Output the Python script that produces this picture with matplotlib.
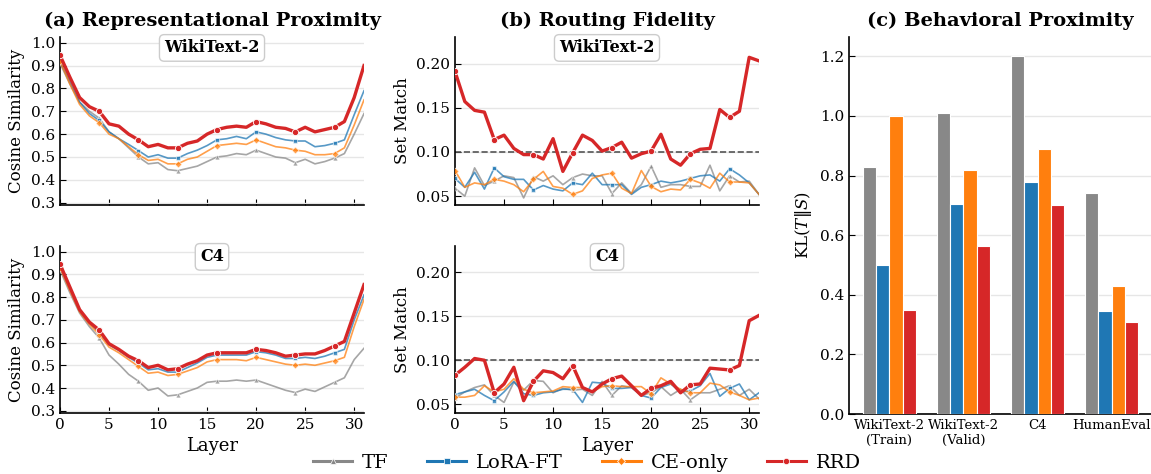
import numpy as np
import matplotlib
matplotlib.use('Agg')
import matplotlib.pyplot as plt
from matplotlib.lines import Line2D

plt.rcParams['font.family'] = 'DejaVu Serif'
plt.rcParams['mathtext.fontset'] = 'dejavuserif'

layers = np.arange(32)
methods = ['TF', 'LoRA-FT', 'CE-only', 'RRD']
colors = ['#888888', '#1f77b4', '#ff7f0e', '#d62728']
markers = ['^', 's', 'D', 'o']

# (a) cosine similarity, WikiText-2
cos_wiki = {
    'TF': [0.91, 0.82, 0.74, 0.70, 0.67, 0.61, 0.58, 0.54, 0.50, 0.47, 0.475, 0.445, 0.44, 0.45, 0.46, 0.48,
           0.50, 0.505, 0.515, 0.51, 0.53, 0.515, 0.50, 0.495, 0.475, 0.49, 0.47, 0.48, 0.495, 0.515, 0.60, 0.69],
    'LoRA-FT': [0.92, 0.83, 0.74, 0.69, 0.66, 0.61, 0.58, 0.555, 0.528, 0.50, 0.51, 0.495, 0.495, 0.515, 0.53, 0.55,
                0.575, 0.58, 0.59, 0.58, 0.61, 0.60, 0.585, 0.575, 0.57, 0.57, 0.545, 0.55, 0.56, 0.575, 0.685, 0.79],
    'CE-only': [0.92, 0.82, 0.73, 0.68, 0.65, 0.60, 0.58, 0.545, 0.51, 0.485, 0.49, 0.47, 0.47, 0.49, 0.50, 0.525,
                0.55, 0.555, 0.56, 0.555, 0.575, 0.56, 0.545, 0.54, 0.53, 0.525, 0.51, 0.51, 0.515, 0.54, 0.64, 0.75],
    'RRD': [0.945, 0.85, 0.76, 0.72, 0.70, 0.645, 0.635, 0.60, 0.575, 0.545, 0.555, 0.54, 0.54, 0.56, 0.57, 0.60,
            0.62, 0.63, 0.635, 0.63, 0.655, 0.645, 0.63, 0.625, 0.61, 0.63, 0.61, 0.62, 0.63, 0.655, 0.76, 0.90],
}
# (a) cosine similarity, C4
cos_c4 = {
    'TF': [0.92, 0.82, 0.73, 0.67, 0.62, 0.545, 0.505, 0.46, 0.43, 0.39, 0.40, 0.365, 0.37, 0.385, 0.40, 0.425,
           0.43, 0.43, 0.435, 0.43, 0.435, 0.42, 0.405, 0.39, 0.38, 0.395, 0.385, 0.405, 0.425, 0.445, 0.525, 0.575],
    'LoRA-FT': [0.935, 0.84, 0.74, 0.685, 0.645, 0.59, 0.565, 0.535, 0.51, 0.48, 0.485, 0.47, 0.47, 0.49, 0.51, 0.535,
                0.545, 0.545, 0.545, 0.545, 0.56, 0.555, 0.545, 0.53, 0.53, 0.535, 0.53, 0.54, 0.555, 0.57, 0.70, 0.81],
    'CE-only': [0.93, 0.83, 0.735, 0.68, 0.635, 0.58, 0.555, 0.525, 0.495, 0.465, 0.47, 0.455, 0.46, 0.475, 0.49, 0.515,
                0.525, 0.525, 0.525, 0.52, 0.535, 0.525, 0.515, 0.505, 0.50, 0.505, 0.50, 0.51, 0.52, 0.535, 0.67, 0.79],
    'RRD': [0.945, 0.845, 0.745, 0.69, 0.655, 0.595, 0.57, 0.54, 0.52, 0.49, 0.50, 0.48, 0.485, 0.505, 0.52, 0.545,
            0.555, 0.555, 0.555, 0.555, 0.57, 0.565, 0.555, 0.54, 0.545, 0.55, 0.55, 0.565, 0.585, 0.605, 0.73, 0.855],
}
# (b) set match, WikiText-2
set_wiki = {
    'TF': [0.059, 0.050, 0.082, 0.062, 0.067, 0.073, 0.071, 0.048, 0.072, 0.067, 0.073, 0.063, 0.071, 0.075, 0.073, 0.073,
           0.053, 0.065, 0.053, 0.063, 0.084, 0.060, 0.063, 0.063, 0.061, 0.061, 0.085, 0.056, 0.073, 0.066, 0.067, 0.052],
    'LoRA-FT': [0.070, 0.060, 0.077, 0.058, 0.082, 0.072, 0.069, 0.069, 0.057, 0.062, 0.058, 0.056, 0.065, 0.063, 0.076, 0.063,
                0.063, 0.063, 0.052, 0.060, 0.063, 0.067, 0.065, 0.067, 0.070, 0.073, 0.074, 0.067, 0.081, 0.074, 0.065, 0.052],
    'CE-only': [0.079, 0.060, 0.065, 0.063, 0.069, 0.067, 0.063, 0.055, 0.069, 0.078, 0.061, 0.059, 0.052, 0.056, 0.070, 0.074,
                0.076, 0.059, 0.053, 0.079, 0.061, 0.055, 0.058, 0.057, 0.069, 0.065, 0.059, 0.076, 0.066, 0.066, 0.065, 0.052],
    'RRD': [0.191, 0.157, 0.147, 0.145, 0.114, 0.119, 0.104, 0.097, 0.097, 0.092, 0.115, 0.078, 0.099, 0.119, 0.113, 0.101,
            0.105, 0.111, 0.093, 0.098, 0.101, 0.120, 0.092, 0.085, 0.098, 0.103, 0.104, 0.148, 0.139, 0.146, 0.207, 0.203],
}
# (b) set match, C4
set_c4 = {
    'TF': [0.057, 0.064, 0.069, 0.072, 0.060, 0.052, 0.075, 0.066, 0.077, 0.076, 0.063, 0.068, 0.066, 0.067, 0.060, 0.076,
           0.060, 0.071, 0.069, 0.060, 0.063, 0.070, 0.060, 0.067, 0.055, 0.063, 0.063, 0.067, 0.071, 0.060, 0.067, 0.056],
    'LoRA-FT': [0.061, 0.064, 0.067, 0.060, 0.054, 0.064, 0.076, 0.062, 0.060, 0.063, 0.064, 0.067, 0.067, 0.052, 0.075, 0.074,
                0.068, 0.068, 0.069, 0.060, 0.057, 0.069, 0.073, 0.064, 0.065, 0.071, 0.085, 0.059, 0.068, 0.073, 0.055, 0.063],
    'CE-only': [0.058, 0.058, 0.060, 0.071, 0.064, 0.067, 0.079, 0.067, 0.063, 0.064, 0.065, 0.070, 0.069, 0.069, 0.064, 0.070,
                0.071, 0.070, 0.070, 0.070, 0.062, 0.080, 0.073, 0.067, 0.063, 0.063, 0.074, 0.072, 0.064, 0.060, 0.055, 0.057],
    'RRD': [0.083, 0.092, 0.102, 0.100, 0.063, 0.073, 0.092, 0.054, 0.076, 0.088, 0.086, 0.079, 0.094, 0.069, 0.064, 0.073,
            0.079, 0.082, 0.071, 0.060, 0.068, 0.071, 0.076, 0.063, 0.072, 0.073, 0.091, 0.090, 0.089, 0.094, 0.145, 0.151],
}
# (c) KL divergence
kl_datasets = ['WikiText-2\n(Train)', 'WikiText-2\n(Valid)', 'C4', 'HumanEval']
kl_values = {
    'TF': [0.83, 1.01, 1.20, 0.74],
    'LoRA-FT': [0.50, 0.705, 0.78, 0.345],
    'CE-only': [1.00, 0.82, 0.89, 0.43],
    'RRD': [0.35, 0.565, 0.70, 0.31],
}

fig = plt.figure(figsize=(11.51, 4.74), dpi=100)
W, H = 1151.0, 474.0

def add_ax(x0, y0, x1, y1):
    return fig.add_axes([x0 / W, 1 - y1 / H, (x1 - x0) / W, (y1 - y0) / H])

def style(ax):
    ax.spines['top'].set_visible(False)
    ax.spines['right'].set_visible(False)
    ax.spines['left'].set_linewidth(1.2)
    ax.spines['bottom'].set_linewidth(1.2)
    ax.tick_params(direction='in', labelsize=11, length=4)
    ax.yaxis.grid(True, color='#e6e6e6', linewidth=1.0)
    ax.set_axisbelow(True)

def line_panel(ax, data, box_label, ylim, yticks, ylabel, show_x):
    for m, c, mk in zip(methods, colors, markers):
        if m == 'RRD':
            ax.plot(layers, data[m], color=c, lw=2.4, marker=mk, ms=4.5, markevery=4,
                    markeredgecolor='white', markeredgewidth=0.6, zorder=5)
        else:
            ax.plot(layers, data[m], color=c, lw=1.2, alpha=0.75, marker=mk, ms=3.5, markevery=4,
                    markeredgecolor='white', markeredgewidth=0.5, zorder=3)
    ax.set_xlim(0, 31)
    ax.set_ylim(*ylim)
    ax.set_yticks(yticks)
    ax.set_xticks([0, 5, 10, 15, 20, 25, 30])
    ax.set_ylabel(ylabel, fontsize=12)
    style(ax)
    if show_x:
        ax.set_xlabel('Layer', fontsize=13)
    else:
        ax.tick_params(labelbottom=False)
    ax.text(0.5, 0.935, box_label, transform=ax.transAxes, ha='center', va='center',
            fontsize=11.5, fontweight='bold',
            bbox=dict(boxstyle='round,pad=0.3', facecolor='white', edgecolor='#cccccc', linewidth=1))

cos_ticks = [0.3, 0.4, 0.5, 0.6, 0.7, 0.8, 0.9, 1.0]
set_ticks = [0.05, 0.10, 0.15, 0.20]

ax1 = add_ax(60, 37, 364, 205)
line_panel(ax1, cos_wiki, 'WikiText-2', (0.29, 1.025), cos_ticks, 'Cosine Similarity', False)
ax1.set_title('(a) Representational Proximity', fontsize=14, fontweight='bold', pad=8)

ax2 = add_ax(60, 246, 364, 413)
line_panel(ax2, cos_c4, 'C4', (0.29, 1.025), cos_ticks, 'Cosine Similarity', True)

ax3 = add_ax(455, 37, 759, 205)
line_panel(ax3, set_wiki, 'WikiText-2', (0.04, 0.23), set_ticks, 'Set Match', False)
ax3.axhline(0.10, color='#555555', ls='--', lw=1.2, zorder=2)
ax3.set_title('(b) Routing Fidelity', fontsize=14, fontweight='bold', pad=8)

ax4 = add_ax(455, 246, 759, 413)
line_panel(ax4, set_c4, 'C4', (0.04, 0.23), set_ticks, 'Set Match', True)
ax4.axhline(0.10, color='#555555', ls='--', lw=1.2, zorder=2)

ax5 = add_ax(849, 37, 1152, 414)
x = np.arange(len(kl_datasets))
bw = 0.18
for i, (m, c) in enumerate(zip(methods, colors)):
    ax5.bar(x + (i - 1.5) * bw, kl_values[m], width=bw, color=c, edgecolor='white', linewidth=0.8, zorder=3)
ax5.set_xticks(x)
ax5.set_xticklabels(kl_datasets, fontsize=9.5)
ax5.set_ylim(0, 1.265)
ax5.set_yticks([0.0, 0.2, 0.4, 0.6, 0.8, 1.0, 1.2])
ax5.set_ylabel(r'KL$(T\|S)$', fontsize=12)
style(ax5)
ax5.tick_params(axis='x', length=0, labelsize=9.5)
ax5.set_title('(c) Behavioral Proximity', fontsize=14, fontweight='bold', pad=8)

handles = [Line2D([0], [0], color=c, marker=mk, ms=4.5, lw=2.2, markeredgecolor='white', markeredgewidth=0.5)
           for c, mk in zip(colors, markers)]
fig.legend(handles, methods, loc='center', bbox_to_anchor=(0.51, 0.024), ncol=4, frameon=False,
           fontsize=14, handlelength=2.0, columnspacing=2.0, handletextpad=0.5)

fig.savefig('out.png', dpi=100)
